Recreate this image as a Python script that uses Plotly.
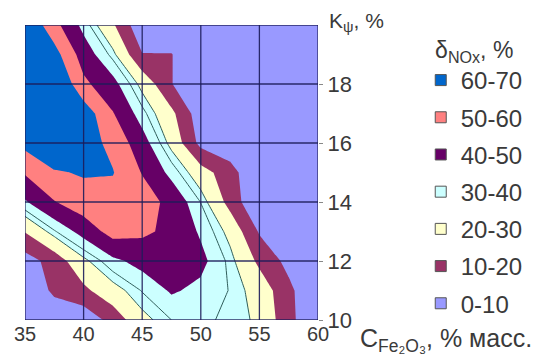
import plotly.graph_objects as go

# Grid of the response surface: Fe2O3 content (x) and K_psi (y)
c_fe2o3 = [35, 37.5, 40, 42.5, 45, 47.5, 50, 52.5, 55, 57.5, 60]
k_psi = [10, 11, 12, 13, 14, 15, 16, 17, 18, 19, 20]

# delta NOx, % ; one row per K_psi value (bottom row first)
delta_nox = [
    [0, 3.3, 3, 13.6, 27.6, 34, 35, 33, 28.6, 13.2, 0],
    [2, 11.9, 17.7, 26.8, 34.4, 41, 38, 33.7, 26.4, 12.5, 0],
    [5.5, 14, 28.1, 38, 43, 46, 42.4, 32.4, 17.7, 7, 0],
    [20.5, 33.3, 43.5, 54, 52, 47.5, 38.8, 27.5, 9, 0, 0],
    [39, 49.5, 56, 56, 54.8, 47, 33.8, 16.4, 0, 0, 0],
    [51, 59, 60.9, 60.5, 49.5, 37.4, 24.5, 14.1, 0, 0, 0],
    [63, 70, 65, 57.1, 44.1, 27.5, 7, 3, 0, 0, 0],
    [70, 70, 66, 50.6, 36, 22.4, 4, 0, 0, 0, 0],
    [72, 72, 52.2, 43.1, 27.5, 10.4, 0, 0, 0, 0, 0],
    [70, 64, 45.3, 32, 10.4, 10.4, 0, 0, 0, 0, 0],
    [70, 53.3, 37.3, 21.3, 2.3, 0, 0, 0, 0, 0, 0],
]

band_labels = ["0-10", "10-20", "20-30", "30-40", "40-50", "50-60", "60-70"]
band_colors = ["#9999FF", "#993366", "#FFFFCC", "#CCFFFF", "#660066", "#FF8080", "#0066CC"]

x_ticks = [35, 40, 45, 50, 55, 60]
y_ticks = [10, 12, 14, 16, 18]
y_grid = [10, 12, 14, 16, 18, 20]

FONT = "Liberation Sans, Arial, sans-serif"
TXT = "#3a3a3a"
GRID = "rgba(28,28,90,0.9)"

# stepwise colour scale: contour fills are sampled at band mid-levels (5, 15, ... 65)
# over the domain 0..60, so each sixth of the scale holds one band colour
scale = []
for k in range(6):
    lo = k / 6
    hi = (k + 1) / 6 if k < 5 else 0.99
    scale += [[lo, band_colors[k]], [hi, band_colors[k]]]
scale += [[0.99, band_colors[6]], [1.0, band_colors[6]]]

fig = go.Figure()

fig.add_trace(go.Contour(
    x=c_fe2o3, y=k_psi, z=delta_nox,
    contours=dict(start=10, end=60, size=10, coloring="fill", showlines=False),
    colorscale=scale, showscale=False, line=dict(smoothing=0, width=0),
    hoverinfo="skip", showlegend=False,
))

# thin isolines through the 30-40 band
fig.add_trace(go.Contour(
    x=c_fe2o3, y=k_psi, z=delta_nox,
    contours=dict(start=30, end=34, size=4, coloring="none"),
    line=dict(color="#2f5d5a", width=1, smoothing=0),
    showscale=False, hoverinfo="skip", showlegend=False,
))

# legend entries, highest band first
for lab, col in zip(band_labels[::-1], band_colors[::-1]):
    fig.add_trace(go.Scatter(
        x=[None], y=[None], mode="markers", name=lab, legendgroup=lab,
        marker=dict(symbol="square", size=11, color=col, line=dict(color="#555555", width=1)),
    ))

# grid drawn over the filled bands
shapes = []
for xv in x_ticks:
    shapes.append(dict(type="line", xref="x", yref="y", x0=xv, x1=xv, y0=k_psi[0], y1=k_psi[-1],
                       line=dict(color=GRID, width=1.3), layer="above"))
for yv in y_grid:
    shapes.append(dict(type="line", xref="x", yref="y", x0=c_fe2o3[0], x1=c_fe2o3[-1], y0=yv, y1=yv,
                       line=dict(color=GRID, width=1.3), layer="above"))

fig.update_layout(
    width=545, height=360,
    margin=dict(l=25, r=227, t=25, b=40),
    paper_bgcolor="white", plot_bgcolor="white",
    font=dict(family=FONT, size=20, color=TXT),
    shapes=shapes,
    showlegend=True,
    legend=dict(
        title=dict(text="δ<sub>NOx</sub>, %", font=dict(size=23, color=TXT), side="top center"),
        xref="container", yref="container", x=0.772, y=0.922, xanchor="left", yanchor="top",
        traceorder="grouped", tracegroupgap=3, font=dict(size=24, color=TXT),
        bgcolor="rgba(0,0,0,0)", itemclick=False, maxheight=345,
    ),
    xaxis=dict(range=[35, 60], tickvals=x_ticks, showgrid=False, zeroline=False,
               ticks="", tickfont=dict(size=20, color=TXT)),
    yaxis=dict(range=[10, 20], tickvals=y_ticks, side="right", showgrid=False, zeroline=False,
               ticks="outside", ticklen=4, tickcolor="#888888", tickfont=dict(size=22, color=TXT)),
    annotations=[
        dict(text="K<sub>ψ</sub>, %", xref="paper", yref="y", x=1, y=20, xanchor="left",
             yanchor="middle", xshift=9, yshift=3, showarrow=False, font=dict(size=21, color=TXT)),
        dict(text="C<sub>Fe₂O₃</sub>, % масс.", xref="paper", yref="paper", x=1, y=0,
             xanchor="left", yanchor="top", xshift=40, yshift=-2, showarrow=False,
             font=dict(size=25, color=TXT)),
    ],
)

fig.write_html("out.html")
